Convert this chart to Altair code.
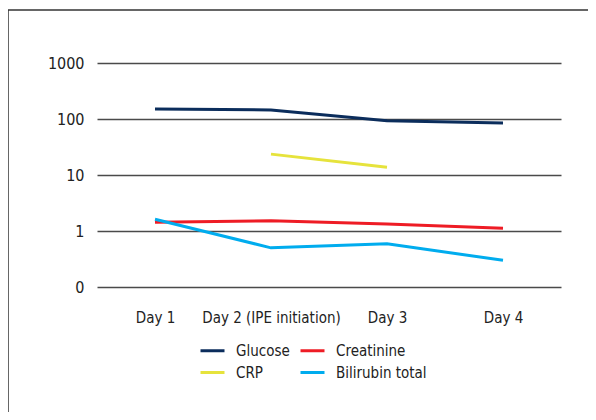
import altair as alt
import pandas as pd

days = ["Day 1", "Day 2 (IPE initiation)", "Day 3", "Day 4"]
series = ["Glucose", "CRP", "Creatinine", "Bilirubin total"]
colors = ["#0b2d5c", "#e6e33c", "#ee1c25", "#00acee"]

glucose = [151, 145, 93, 85]
creatinine = [1.43, 1.52, 1.34, 1.12]
crp = [None, 23.6, 13.7, None]
bilirubin = [1.62, 0.50, 0.59, 0.30]

rows = []
for name, vals in zip(["Glucose", "Creatinine", "CRP", "Bilirubin total"],
                      [glucose, creatinine, crp, bilirubin]):
    for d, v in zip(days, vals):
        if v is not None:
            rows.append({"day": d, "series": name, "value": v})
df = pd.DataFrame(rows)

FONT = "DejaVu Sans Condensed, Liberation Sans Narrow, Roboto, sans-serif"

lines = alt.Chart(df).mark_line(strokeWidth=3).encode(
    x=alt.X("day:N", sort=days, title=None,
            scale=alt.Scale(type="point", padding=0.5),
            axis=alt.Axis(labelAngle=0, domain=False, ticks=False, grid=False,
                          labelPadding=23, labelFontSize=15, labelFont=FONT,
                          labelColor="#222")),
    y=alt.Y("value:Q", title=None,
            scale=alt.Scale(type="log", domain=[0.1, 1000]),
            axis=alt.Axis(values=[0.1, 1, 10, 100, 1000], format="d",
                          domain=False, ticks=False, grid=True,
                          gridColor="#4a4a4a", gridWidth=1.5, gridOpacity=1,
                          labelPadding=13, labelFontSize=16, labelFont=FONT,
                          labelColor="#222")),
    color=alt.Color("series:N", sort=series,
                    scale=alt.Scale(domain=series, range=colors),
                    legend=alt.Legend(title=None, orient="none", legendX=102, legendY=274,
                                      columns=2, columnPadding=4, rowPadding=0,
                                      symbolType="M-1,0L1,0", symbolSize=576,
                                      symbolStrokeWidth=3, labelFontSize=15,
                                      labelFont=FONT, labelColor="#222",
                                      labelOffset=10)),
    detail="series:N",
)

frame_data = alt.Data(values=[{"a": 1}])
top_rule = alt.Chart(frame_data).mark_rule(color="#333", strokeWidth=1.5).encode(
    x=alt.value(-89), x2=alt.value(600), y=alt.value(-53))
left_rule = alt.Chart(frame_data).mark_rule(color="#333", strokeWidth=1.5).encode(
    x=alt.value(-89), y=alt.value(-53), y2=alt.value(420))

chart = alt.layer(lines, top_rule, left_rule).properties(
    width=464, height=224,
    autosize=alt.AutoSizeParams(type="none"),
    padding={"left": 89, "top": 55, "right": 27, "bottom": 125},
).configure_view(stroke=None)

chart.save("out.html", embed_options={"renderer": "svg", "actions": False})
